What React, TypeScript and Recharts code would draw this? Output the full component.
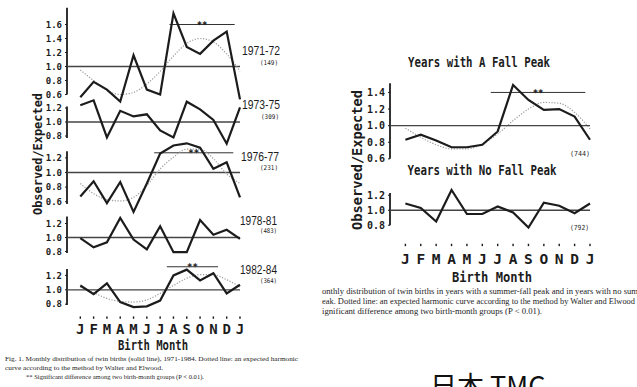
import React from "react";
import { LineChart, Line, XAxis, YAxis, ReferenceLine } from "recharts";

const months = ["J", "F", "M", "A", "M", "J", "J", "A", "S", "O", "N", "D", "J"];

const obs7172 = [0.56, 0.78, 0.67, 0.5, 1.16, 0.67, 0.6, 1.76, 1.28, 1.18, 1.37, 1.5, 0.53];
const fit7172 = [0.95, 0.8, 0.66, 0.6, 0.63, 0.75, 0.93, 1.15, 1.33, 1.4, 1.35, 1.18, 0.93];
const obs7375 = [1.24, 1.31, 0.78, 1.16, 1.08, 1.11, 0.88, 0.78, 1.29, 1.18, 1.03, 0.69, 1.21];
const obs7677 = [0.67, 0.88, 0.58, 0.87, 0.46, 0.85, 1.26, 1.37, 1.4, 1.34, 1.05, 1.14, 0.66];
const fit7677 = [0.85, 0.71, 0.63, 0.61, 0.66, 0.82, 1.05, 1.21, 1.32, 1.32, 1.19, 0.98, 0.85];
const obs7881 = [0.99, 0.86, 0.93, 1.28, 0.97, 0.83, 1.16, 0.79, 0.79, 1.25, 1.04, 1.11, 0.98];
const obs8284 = [1.06, 0.94, 1.09, 0.83, 0.76, 0.77, 0.85, 1.2, 1.28, 1.13, 1.23, 0.95, 1.07];
const fit8284 = [1.04, 0.96, 0.88, 0.84, 0.83, 0.86, 0.95, 1.06, 1.16, 1.21, 1.21, 1.14, 1.04];
const obsFall = [0.83, 0.89, 0.82, 0.74, 0.74, 0.77, 0.93, 1.49, 1.31, 1.19, 1.2, 1.11, 0.83];
const fitFall = [0.97, 0.86, 0.77, 0.72, 0.72, 0.78, 0.9, 1.06, 1.2, 1.28, 1.27, 1.16, 0.96];
const obsNoFall = [1.09, 1.03, 0.85, 1.27, 0.95, 0.95, 1.05, 0.97, 0.77, 1.1, 1.06, 0.96, 1.09];

// significance bars: [from month index, to month index, level]
const sig7172 = [6.7, 11.6, 1.6];
const sig7677 = [5.55, 11.5, 1.27];
const sig8284 = [6.5, 10.35, 1.32];
const sigFall = [5.55, 11.7, 1.4];

const ticks3 = [0.8, 1.0, 1.2];
const ticks4 = [0.6, 0.8, 1.0, 1.2];
const ticks5 = [0.6, 0.8, 1.0, 1.2, 1.4];
const ticks6 = [0.6, 0.8, 1.0, 1.2, 1.4, 1.6];

const MONO = "'DejaVu Sans Mono', monospace";
const SERIF = "'Liberation Serif', 'DejaVu Serif', serif";
const NARROW = "'Liberation Sans Narrow', 'Liberation Sans', sans-serif";
const INK = "#1c1c1c";

const rows = (obs: number[], fit?: number[]) =>
  months.map((m, i) => ({ i, m, obs: obs[i], fit: fit ? fit[i] : undefined }));

function Panel(props: any) {
  const {
    left, top, width, mr, plotH, yw, domain, ticks, axisSpan, obs, fit, sig,
    tickFont, monthAxis,
  } = props;
  const axisH = monthAxis ? monthAxis.height : 0;
  const data = rows(obs, fit);
  return (
    <div style={{ position: "absolute", left, top }}>
      <LineChart
        width={width}
        height={plotH + axisH}
        data={data}
        margin={{ top: 0, right: mr, bottom: 0, left: 0 }}
      >
        <XAxis
          type="number"
          dataKey="i"
          domain={[-1, 12]}
          ticks={[0, 1, 2, 3, 4, 5, 6, 7, 8, 9, 10, 11, 12]}
          interval={0}
          hide={!monthAxis}
          height={axisH || 1}
          axisLine={false}
          tickLine={false}
          tickSize={0}
          tickMargin={0}
          tick={(p: any) => (
            <g>
              <rect x={p.x - 0.7} y={p.y + monthAxis.dot} width={1.4} height={2.4} fill={INK} />
              <text
                x={p.x}
                y={p.y + monthAxis.base}
                textAnchor="middle"
                fontFamily={MONO}
                fontWeight={700}
                fontSize={monthAxis.size}
                fill={INK}
              >
                {months[p.payload.value]}
              </text>
            </g>
          )}
        />
        <YAxis
          type="number"
          domain={domain}
          ticks={ticks}
          interval={0}
          width={yw}
          axisLine={false}
          tickLine={{ stroke: INK, strokeWidth: 1 }}
          tickSize={2}
          tickMargin={3}
          tickFormatter={(v: number) => v.toFixed(1)}
          tick={{ fontSize: tickFont, fontWeight: 700, fill: INK, fontFamily: MONO }}
        />
        <ReferenceLine
          segment={[{ x: -1, y: axisSpan[0] }, { x: -1, y: axisSpan[1] }]}
          stroke={INK}
          strokeWidth={1.8}
        />
        <ReferenceLine y={1} stroke="#444" strokeWidth={1.3} />
        {sig && (
          <ReferenceLine
            segment={[{ x: sig[0], y: sig[2] }, { x: sig[1], y: sig[2] }]}
            stroke="#333"
            strokeWidth={1}
            label={{
              value: "**",
              position: "center",
              fill: INK,
              fontSize: 9,
              fontWeight: 700,
              fontFamily: MONO,
            }}
          />
        )}
        {fit && (
          <Line
            type="monotone"
            dataKey="fit"
            stroke="#9a9a9a"
            strokeWidth={1.2}
            strokeDasharray="1.2 1.6"
            dot={false}
            isAnimationActive={false}
          />
        )}
        <Line
          type="linear"
          dataKey="obs"
          stroke={INK}
          strokeWidth={2.2}
          dot={false}
          isAnimationActive={false}
        />
      </LineChart>
    </div>
  );
}

function Txt(props: any) {
  const { x, y, w, size, family, weight, anchor, fill, children } = props;
  return (
    <text
      x={x}
      y={y}
      fontSize={size}
      fontFamily={family}
      fontWeight={weight || 400}
      textAnchor={anchor || "start"}
      fill={fill || INK}
      textLength={w}
      lengthAdjust="spacingAndGlyphs"
    >
      {children}
    </text>
  );
}

export default function App() {
  const L = { left: 0, width: 252, mr: 12, yw: 67, tickFont: 9 };
  const R = { left: 320, width: 282, mr: 12, yw: 70, tickFont: 10 };
  return (
    <div
      style={{
        position: "absolute",
        left: 0,
        top: 0,
        width: 637,
        height: 387,
        background: "#fff",
        overflow: "hidden",
      }}
    >
      <Panel {...L} top={6.5} plotH={98} domain={[0.45, 1.85]} ticks={ticks6}
        axisSpan={[0.6, 1.84]} obs={obs7172} fit={fit7172} sig={sig7172} />
      <Panel {...L} top={94.3} plotH={56} domain={[0.6, 1.4]} ticks={ticks3}
        axisSpan={[0.77, 1.22]} obs={obs7375} />
      <Panel {...L} top={135.8} plotH={80.3} domain={[0.4, 1.5]} ticks={ticks4}
        axisSpan={[0.57, 1.29]} obs={obs7677} fit={fit7677} sig={sig7677} />
      <Panel {...L} top={213.2} plotH={45.5} domain={[0.7, 1.35]} ticks={ticks3}
        axisSpan={[0.78, 1.3]} obs={obs7881} />
      <Panel {...L} top={260.5} plotH={50.4} domain={[0.7, 1.4]} ticks={ticks3}
        axisSpan={[0.79, 1.29]} obs={obs8284} fit={fit8284} sig={sig8284}
        monthAxis={{ height: 28, dot: 5, base: 23, size: 14 }} />

      <Panel {...R} top={80.35} plotH={83} domain={[0.55, 1.55]} ticks={ticks5}
        axisSpan={[0.6, 1.51]} obs={obsFall} fit={fitFall} sig={sigFall} />
      <Panel {...R} top={184.45} plotH={48.75} domain={[0.7, 1.35]} ticks={ticks3}
        axisSpan={[0.8, 1.23]} obs={obsNoFall}
        monthAxis={{ height: 36, dot: 11, base: 31, size: 14.5 }} />

      <svg
        width={637}
        height={387}
        style={{ position: "absolute", left: 0, top: 0, pointerEvents: "none" }}
      >
        {/* left figure */}
        <Txt x={242} y={55} w={38} size={13.5} family={NARROW}>1971-72</Txt>
        <Txt x={260} y={64.5} w={18} size={6.5} family={MONO}>(149)</Txt>
        <Txt x={242} y={109} w={38} size={13.5} family={NARROW}>1973-75</Txt>
        <Txt x={261} y={118.5} w={18} size={6.5} family={MONO}>(309)</Txt>
        <Txt x={241} y={161} w={38} size={13.5} family={NARROW}>1976-77</Txt>
        <Txt x={260} y={170} w={18} size={6.5} family={MONO}>(231)</Txt>
        <Txt x={240} y={224.5} w={37} size={13.5} family={NARROW}>1978-81</Txt>
        <Txt x={260} y={233} w={17} size={6.5} family={MONO}>(483)</Txt>
        <Txt x={240} y={274} w={37} size={13.5} family={NARROW}>1982-84</Txt>
        <Txt x={260} y={283} w={17} size={6.5} family={MONO}>(364)</Txt>

        <g transform="translate(42 154) rotate(-90)">
          <Txt x={0} y={0} w={122} size={13} family={MONO} weight={700} anchor="middle">
            Observed/Expected
          </Txt>
        </g>
        <Txt x={153} y={350} w={70} size={14} family={MONO} weight={700} anchor="middle">
          Birth Month
        </Txt>

        <Txt x={5} y={361} w={293} size={6.5} family={SERIF}>
          Fig. 1. Monthly distribution of twin births (solid line), 1971-1984. Dotted line: an expected harmonic
        </Txt>
        <Txt x={5} y={370} w={158} size={6.5} family={SERIF}>
          curve according to the method by Walter and Elwood.
        </Txt>
        <Txt x={26} y={379} w={178} size={6.5} family={SERIF}>
          ** Significant difference among two birth-month groups (P {"<"} 0.01).
        </Txt>

        {/* right figure */}
        <Txt x={479} y={67} w={142} size={14} family={MONO} weight={700} anchor="middle">
          Years with A Fall Peak
        </Txt>
        <Txt x={482} y={175} w={149} size={14} family={MONO} weight={700} anchor="middle">
          Years with No Fall Peak
        </Txt>
        <Txt x={570} y={156} w={20} size={7} family={MONO}>(744)</Txt>
        <Txt x={570} y={230} w={19} size={7} family={MONO}>(792)</Txt>

        <g transform="translate(362 160) rotate(-90)">
          <Txt x={0} y={0} w={140} size={14} family={MONO} weight={700} anchor="middle">
            Observed/Expected
          </Txt>
        </g>
        <Txt x={492} y={282} w={80} size={13.5} family={MONO} weight={700} anchor="middle">
          Birth Month
        </Txt>

        <Txt x={322} y={294} w={316} size={7.2} family={SERIF}>
          onthly distribution of twin births in years with a summer-fall peak and in years with no sum
        </Txt>
        <Txt x={322} y={304} w={313} size={7.2} family={SERIF}>
          eak. Dotted line: an expected harmonic curve according to the method by Walter and Elwood
        </Txt>
        <Txt x={322} y={314} w={220} size={7.2} family={SERIF}>
          ignificant difference among two birth-month groups (P {"<"} 0.01).
        </Txt>

        <text
          x={430}
          y={396}
          fontSize={27}
          fontFamily="'Noto Sans CJK JP', 'Noto Sans', sans-serif"
          fill="#111"
        >
          日本 TMC
        </text>
      </svg>
    </div>
  );
}
